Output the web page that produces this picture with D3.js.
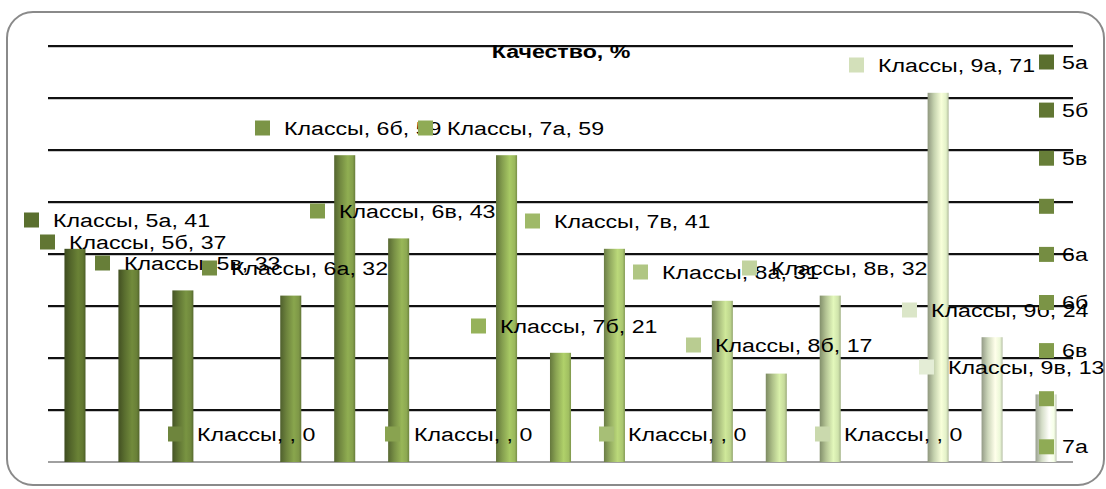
<!DOCTYPE html>
<html>
<head>
<meta charset="utf-8">
<script src="https://cdn.jsdelivr.net/npm/d3@7"></script>
<style>
  html, body { margin: 0; padding: 0; background: #fff; }
  svg { display: block; font-family: "Liberation Sans", Arial, sans-serif; }
</style>
</head>
<body>
<div id="chart"></div>
<script>
// Data
const categories = ['5а', '5б', '5в', '', '6а', '6б', '6в', '', '7а', '7б', '7в', '', '8а', '8б', '8в', '', '9а', '9б', '9в'];
const values = [41, 37, 33, 0, 32, 59, 43, 0, 59, 21, 41, 0, 31, 17, 32, 0, 71, 24, 13];
const yTicks = [0, 10, 20, 30, 40, 50, 60, 70, 80];
const seriesName = 'Классы';
const title = 'Качество, %';

// where Excel dropped each data label: [key square x, text middle y]
const labelPos = [
  [24, 220], [40, 242], [95, 263], [168, 434], [202, 268], [255, 128], [310, 211],
  [385, 434], [418, 128], [471, 326], [525, 221], [599, 434], [633, 272], [686, 345],
  [742, 268], [815, 434], [849, 65], [902, 310], [919, 367]
];

const W = 1106, H = 489;
const margin = { left: 48, right: 33, top: 46, bottom: 27 };
const legendShown = 9;
const textStretch = 1.22; // the source font is wide, stretch ours to match

const svg = d3.select('#chart').append('svg')
  .attr('width', W)
  .attr('height', H);

const defs = svg.append('defs');

// Chart frame
svg.append('rect')
  .attr('x', 7).attr('y', 12)
  .attr('width', 1097).attr('height', 473)
  .attr('rx', 26).attr('ry', 26)
  .attr('fill', '#fff')
  .attr('stroke', '#8a8a8a')
  .attr('stroke-width', 2);

const x = d3.scaleBand()
  .domain(d3.range(categories.length))
  .range([margin.left, W - margin.right])
  .paddingInner(0.61)
  .paddingOuter(0.305);

const y = d3.scaleLinear()
  .domain([0, 80])
  .range([H - margin.bottom, margin.top]);

// colours run from dark olive to pale green across the points
const color = d3.scaleLinear()
  .domain([0, 9, 18])
  .range(['#5a6f2e', '#96b25a', '#e4edd6'])
  .interpolate(d3.interpolateRgb);

// Gridlines
const grid = svg.append('g');
yTicks.filter(t => t > 0).forEach(t => {
  grid.append('line')
    .attr('x1', margin.left).attr('x2', W - margin.right)
    .attr('y1', y(t) + 1.5).attr('y2', y(t) + 1.5)
    .attr('stroke', '#c8c8c8').attr('stroke-width', 1);
  grid.append('line')
    .attr('x1', margin.left).attr('x2', W - margin.right)
    .attr('y1', y(t)).attr('y2', y(t))
    .attr('stroke', '#111').attr('stroke-width', 2);
});
grid.append('line')
  .attr('x1', margin.left).attr('x2', W - margin.right)
  .attr('y1', y(0)).attr('y2', y(0))
  .attr('stroke', '#a0a0a0').attr('stroke-width', 2);

// Cylinder-ish gradients, one per point
categories.forEach((c, i) => {
  const base = d3.color(color(i));
  const g = defs.append('linearGradient')
    .attr('id', `bar-grad-${i}`)
    .attr('x1', '0%').attr('x2', '100%')
    .attr('y1', '0%').attr('y2', '0%');
  g.append('stop').attr('offset', '0%').attr('stop-color', base.darker(1.1));
  g.append('stop').attr('offset', '30%').attr('stop-color', base.darker(0.2));
  g.append('stop').attr('offset', '65%').attr('stop-color', base.brighter(0.45));
  g.append('stop').attr('offset', '88%').attr('stop-color', base.brighter(0.2));
  g.append('stop').attr('offset', '100%').attr('stop-color', base.darker(0.5));
});

// Bars
const points = values.map((v, i) => ({ i, v }));
svg.append('g')
  .selectAll('rect')
  .data(points.filter(d => d.v > 0))
  .join('rect')
  .attr('x', d => x(d.i))
  .attr('y', d => y(d.v))
  .attr('width', x.bandwidth())
  .attr('height', d => y(0) - y(d.v))
  .attr('fill', d => `url(#bar-grad-${d.i})`);

function wideText(sel, tx, ty) {
  return sel.append('text')
    .attr('transform', `translate(${tx},${ty}) scale(${textStretch},1)`);
}

// Title
wideText(svg, 561, 58)
  .attr('text-anchor', 'middle')
  .attr('font-weight', 'bold')
  .attr('font-size', 19)
  .text(title);

// Data labels
const labels = svg.append('g');
points.forEach(d => {
  const [lx, ly] = labelPos[d.i];
  labels.append('rect')
    .attr('x', lx).attr('y', ly - 7.5)
    .attr('width', 15).attr('height', 15)
    .attr('fill', color(d.i));
  wideText(labels, lx + 29, ly)
    .attr('dy', '0.35em')
    .attr('font-size', 19)
    .text(`${seriesName}, ${categories[d.i]}, ${d.v}`);
});

// Legend (overflows the frame, only the first items fit)
const legend = svg.append('g');
categories.slice(0, legendShown).forEach((c, i) => {
  const ly = 62 + i * 48.1;
  legend.append('rect')
    .attr('x', 1039).attr('y', ly - 7.5)
    .attr('width', 15).attr('height', 15)
    .attr('fill', color(i));
  wideText(legend, 1062, ly)
    .attr('dy', '0.35em')
    .attr('font-size', 19)
    .text(c);
});
</script>
</body>
</html>
